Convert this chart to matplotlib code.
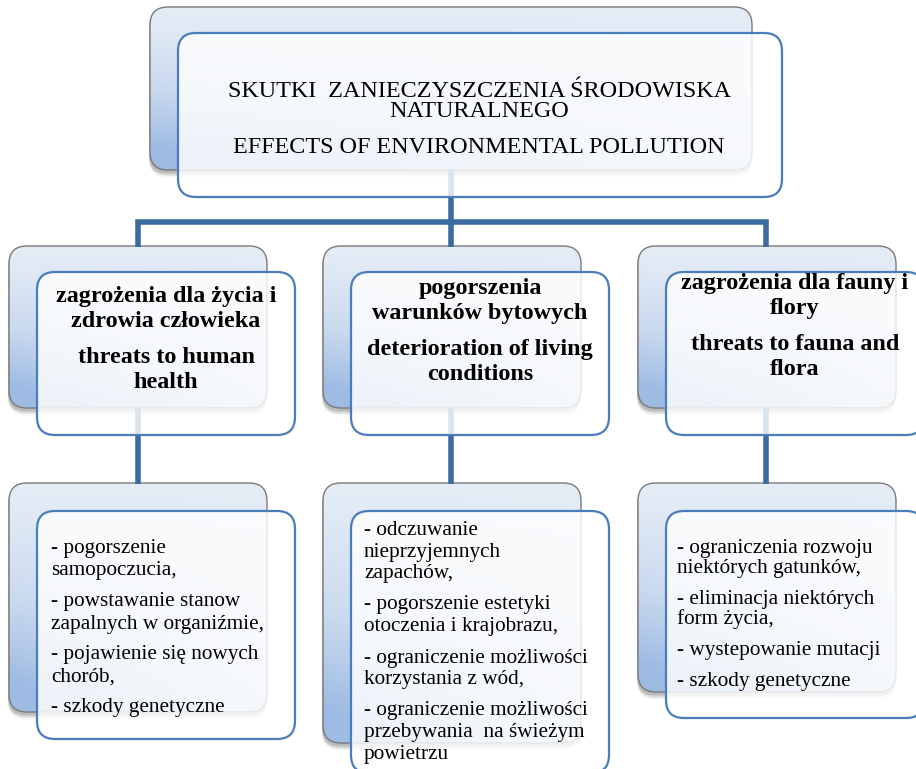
import numpy as np
import matplotlib.pyplot as plt
from matplotlib.patches import FancyBboxPatch
from matplotlib.colors import LinearSegmentedColormap

plt.rcParams['font.family'] = ['Liberation Serif', 'DejaVu Serif']

# ---- diagram texts ----
title_lines = ["SKUTKI  ZANIECZYSZCZENIA ŚRODOWISKA", "NATURALNEGO",
               "EFFECTS OF ENVIRONMENTAL POLLUTION"]

heads_pl = [["zagrożenia dla życia i", "zdrowia człowieka"],
            ["pogorszenia", "warunków bytowych"],
            ["zagrożenia dla fauny i", "flory"]]
heads_en = [["threats to human", "health"],
            ["deterioration of living", "conditions"],
            ["threats to fauna and", "flora"]]

effects_health = [["- pogorszenie", "samopoczucia,"],
                  ["- powstawanie stanow", "zapalnych w organiźmie,"],
                  ["- pojawienie się nowych", "chorób,"],
                  ["- szkody genetyczne"]]
effects_living = [["- odczuwanie", "nieprzyjemnych", "zapachów,"],
                  ["- pogorszenie estetyki", "otoczenia i krajobrazu,"],
                  ["- ograniczenie możliwości", "korzystania z wód,"],
                  ["- ograniczenie możliwości", "przebywania  na świeżym", "powietrzu"]]
effects_nature = [["- ograniczenia rozwoju", "niektórych gatunków,"],
                  ["- eliminacja niektórych", "form życia,"],
                  ["- wystepowanie mutacji"],
                  ["- szkody genetyczne"]]
effects = [effects_health, effects_living, effects_nature]

W, H = 916, 769
LINE_COL = '#3c6c9f'
FRONT_EDGE = '#4a7dbb'
grad_cmap = LinearSegmentedColormap.from_list('g', ['#e4ecf6', '#c9d9ee', '#9ebbe3'])

fig = plt.figure(figsize=(W / 100, H / 100), dpi=100)
ax = fig.add_axes([0, 0, 1, 1])
ax.axis('off')


def back_box(x, y, w, h, r=18):
    # soft shadow under the box
    for k, a in zip(range(4, 0, -1), [0.05, 0.08, 0.11, 0.15]):
        sh = FancyBboxPatch((x - 1, y + 2 + k * 0.5), w + 1, h + k * 0.8,
                            boxstyle=f"round,pad=0,rounding_size={r}",
                            fc='#3a3a3a', ec='none', alpha=a, zorder=1)
        ax.add_patch(sh)
    p = FancyBboxPatch((x, y), w, h, boxstyle=f"round,pad=0,rounding_size={r}",
                       fc='none', ec='#7a7a7a', lw=1.0, zorder=3)
    ax.add_patch(p)
    u = np.linspace(0, 1, 80)
    v = np.linspace(0, 1, 80)
    uu, vv = np.meshgrid(u, v)
    t = np.clip(vv ** 1.3 * (0.45 + 0.75 * (1 - uu)), 0, 1)
    im = ax.imshow(t, cmap=grad_cmap, vmin=0, vmax=1, extent=(x, x + w, y + h, y),
                   aspect='auto', interpolation='bilinear', zorder=2)
    im.set_clip_path(p)


def front_box(x, y, w, h, r=18):
    p = FancyBboxPatch((x, y), w, h, boxstyle=f"round,pad=0,rounding_size={r}",
                       fc=(1, 1, 1, 0.82), ec=FRONT_EDGE, lw=1.6, zorder=5)
    ax.add_patch(p)


def connector(xs, ys):
    ax.plot(xs, ys, color=LINE_COL, lw=4, solid_capstyle='butt',
            solid_joinstyle='miter', zorder=4)


# ---- top box ----
back_box(150, 7, 602, 163)
front_box(178, 33, 604, 164)
title_y = [97, 117, 153]
for s, yy in zip(title_lines, title_y):
    ax.text(479, yy, s, ha='center', va='baseline', fontsize=17.4, zorder=6)

# ---- connectors ----
col_cx = [138, 451, 766]
connector([451, 451], [170, 222])
connector([col_cx[0], col_cx[0], col_cx[2], col_cx[2]], [247, 222, 222, 247])
connector([451, 451], [222, 247])
for cx in col_cx:
    connector([cx, cx], [408, 484])

# ---- middle row ----
back_x = [9, 323, 638]
bw = 258
for i, bx in enumerate(back_x):
    back_box(bx, 246, bw, 162)
    front_box(bx + 28, 272, bw, 163)

head_y0 = [302, 294, 289]
for i, bx in enumerate(back_x):
    cx = bx + 28 + bw / 2
    y = head_y0[i]
    for s in heads_pl[i]:
        ax.text(cx, y, s, ha='center', va='baseline', fontsize=17.4,
                fontweight='bold', zorder=6)
        y += 25
    y += 11
    for s in heads_en[i]:
        ax.text(cx, y, s, ha='center', va='baseline', fontsize=17.4,
                fontweight='bold', zorder=6)
        y += 25

# ---- bottom row ----
bottom_back_h = [229, 260, 209]
bottom_front_h = [228, 262, 207]
for i, bx in enumerate(back_x):
    back_box(bx, 483, bw, bottom_back_h[i])
    front_box(bx + 28, 511, bw, bottom_front_h[i])

text_x = [51, 364, 677]
text_y0 = [553, 535, 553]
line_step = [22.5, 21.5, 20]
para_gap = [8, 10, 11]
for i in range(3):
    y = text_y0[i]
    for para in effects[i]:
        for s in para:
            ax.text(text_x[i], y, s, ha='left', va='baseline', fontsize=15.3, zorder=6)
            y += line_step[i]
        y += para_gap[i]

ax.set_xlim(0, W)
ax.set_ylim(H, 0)
fig.savefig('out.png', dpi=100, facecolor='white')
